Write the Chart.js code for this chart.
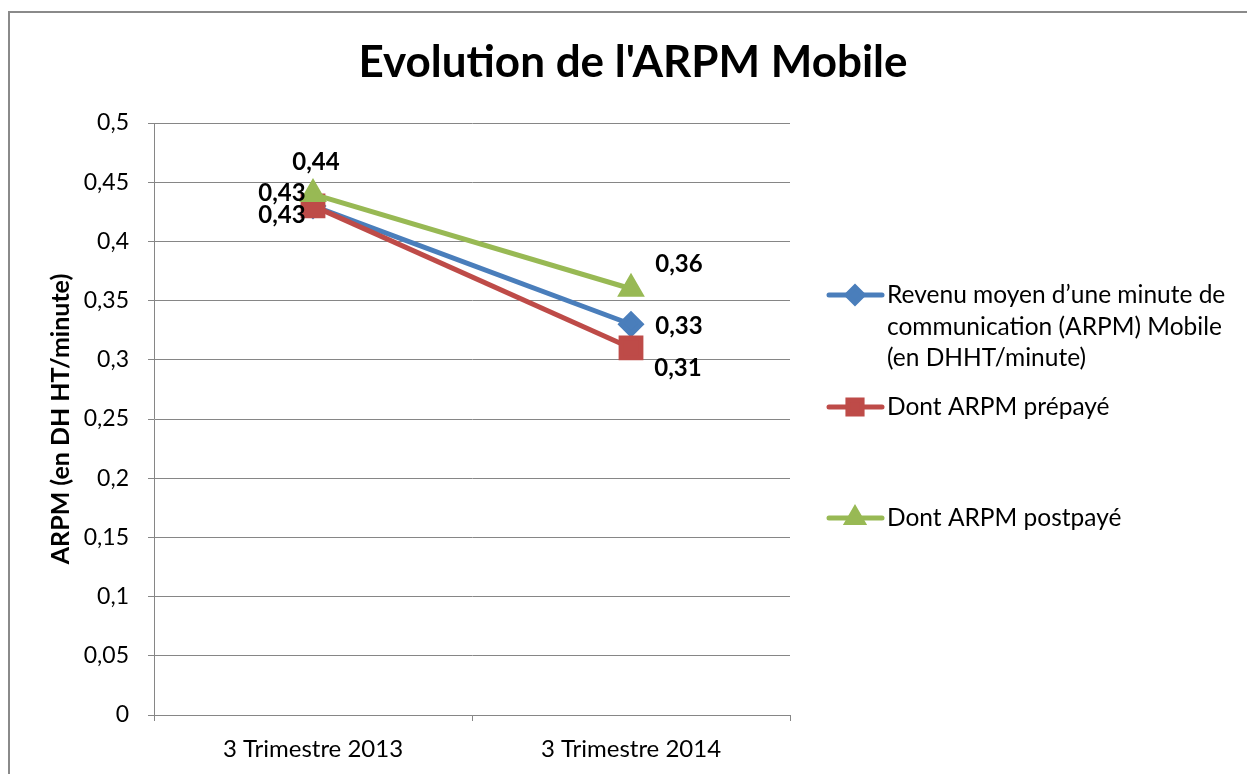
<!DOCTYPE html>
<html>
<head>
<meta charset="utf-8">
<script src="https://cdn.jsdelivr.net/npm/chart.js@4/dist/chart.umd.min.js"></script>
<style>
  html, body { margin: 0; padding: 0; background: #fff; overflow: hidden; }
  #wrap { position: absolute; left: 0; top: 0; width: 1247px; height: 774px; }
</style>
</head>
<body>
<div id="wrap"><canvas id="c" width="1247" height="774"></canvas></div>
<script>
const categories = ['3 Trimestre 2013', '3 Trimestre 2014'];
const arpmMobile = [0.43, 0.33];
const arpmPrepaye = [0.43, 0.31];
const arpmPostpaye = [0.44, 0.36];
const seriesLabels = [
  'Revenu moyen d’une minute de communication (ARPM) Mobile (en DHHT/minute)',
  'Dont ARPM prépayé',
  'Dont ARPM postpayé'
];
const legendLines = [
  ['Revenu moyen d’une minute de', 'communication (ARPM) Mobile', '(en DHHT/minute)'],
  ['Dont ARPM prépayé'],
  ['Dont ARPM postpayé']
];
const titleText = "Evolution de l'ARPM Mobile";
const yTitle = 'ARPM (en DH HT/minute)';

const FONT = "Lato, 'Open Sans', sans-serif";
const fmt = v => Number(v.toFixed(2)).toString().replace('.', ',');

const frameAndText = {
  id: 'frameAndText',
  beforeDraw(chart) {
    const ctx = chart.ctx;
    ctx.save();
    ctx.fillStyle = '#fff';
    ctx.fillRect(0, 0, chart.width, chart.height);
    ctx.strokeStyle = '#8a8a8a';
    ctx.lineWidth = 2;
    ctx.strokeRect(9, 12, 1400, 900);
    ctx.restore();
  },
  afterDraw(chart) {
    const ctx = chart.ctx;
    ctx.save();
    // title
    ctx.fillStyle = '#000';
    ctx.font = "bold 44px " + FONT;
    ctx.textAlign = 'center';
    ctx.textBaseline = 'middle';
    ctx.fillText(titleText, 633, 63);
    // legend
    const ys = [[295, 327, 358], [407], [518]];
    const legendRadius = [8, 10, 9];
    chart.data.datasets.forEach((ds, i) => {
      const y0 = ys[i][0];
      ctx.strokeStyle = ds.borderColor;
      ctx.lineWidth = 5;
      ctx.lineCap = 'round';
      ctx.beginPath();
      ctx.moveTo(829, y0);
      ctx.lineTo(882, y0);
      ctx.stroke();
      ctx.fillStyle = ds.pointBackgroundColor;
      ctx.strokeStyle = ds.pointBorderColor;
      Chart.helpers.drawPoint(ctx, {
        pointStyle: ds.pointStyle, radius: legendRadius[i], rotation: 0, borderWidth: 1
      }, 855, y0);
      ctx.fillStyle = '#000';
      ctx.font = "24.5px " + FONT;
      ctx.textAlign = 'left';
      ctx.textBaseline = 'middle';
      legendLines[i].forEach((t, k) => ctx.fillText(t, 887, ys[i][k]));
    });
    ctx.restore();
  },
  afterDatasetsDraw(chart) {
    const ctx = chart.ctx;
    const offs = chart.options.plugins.frameAndText.offsets;
    ctx.save();
    ctx.fillStyle = '#000';
    ctx.font = "bold 24px " + FONT;
    ctx.textAlign = 'center';
    ctx.textBaseline = 'middle';
    chart.data.datasets.forEach((ds, i) => {
      const meta = chart.getDatasetMeta(i);
      meta.data.forEach((pt, j) => {
        const o = offs[i][j];
        ctx.fillText(fmt(ds.data[j]), pt.x + o[0], pt.y + o[1]);
      });
    });
    ctx.restore();
  }
};

const colors = ['#4A7EBB', '#BE4B48', '#98B954'];

new Chart(document.getElementById('c'), {
  type: 'line',
  data: {
    labels: categories,
    datasets: [
      { label: seriesLabels[0], data: arpmMobile, borderColor: colors[0], backgroundColor: colors[0],
        pointBackgroundColor: colors[0], pointBorderColor: colors[0], pointStyle: 'rectRot', pointRadius: 10,
        borderWidth: 5, order: 2 },
      { label: seriesLabels[1], data: arpmPrepaye, borderColor: colors[1], backgroundColor: colors[1],
        pointBackgroundColor: colors[1], pointBorderColor: colors[1], pointStyle: 'rect', pointRadius: 14,
        borderWidth: 5, order: 1 },
      { label: seriesLabels[2], data: arpmPostpaye, borderColor: colors[2], backgroundColor: colors[2],
        pointBackgroundColor: colors[2], pointBorderColor: colors[2], pointStyle: 'triangle', pointRadius: 11,
        borderWidth: 5, order: 0 }
    ]
  },
  options: {
    responsive: false,
    animation: false,
    events: [],
    layout: { padding: { left: 0, right: 457, top: 123, bottom: 0 } },
    plugins: {
      legend: { display: false },
      tooltip: { enabled: false },
      title: { display: false },
      frameAndText: {
        offsets: [
          [[-31, -13], [48, 2]],
          [[-31, 9], [47, 20]],
          [[3, -32], [48, -24]]
        ]
      }
    },
    scales: {
      x: {
        offset: true,
        grid: { offset: true, drawOnChartArea: false, drawTicks: true, tickLength: 6, color: '#868686', lineWidth: 1 },
        border: { color: '#868686', width: 1 },
        ticks: { color: '#000', font: { family: FONT, size: 24 }, padding: 14, maxRotation: 0 },
        afterFit(scale) { scale.height = 774 - 715; }
      },
      y: {
        min: 0, max: 0.5,
        ticks: { stepSize: 0.05, color: '#000', font: { family: FONT, size: 23 }, padding: 19,
          callback: v => fmt(v) },
        grid: { color: '#868686', lineWidth: 1, drawTicks: true, tickLength: 6 },
        border: { color: '#868686', width: 1 },
        title: { display: true, text: yTitle, color: '#000', font: { family: FONT, size: 25, weight: 'bold' },
          padding: { top: 46, bottom: 0 } },
        afterFit(scale) { scale.width = 154; }
      }
    }
  },
  plugins: [frameAndText]
});
</script>
</body>
</html>
